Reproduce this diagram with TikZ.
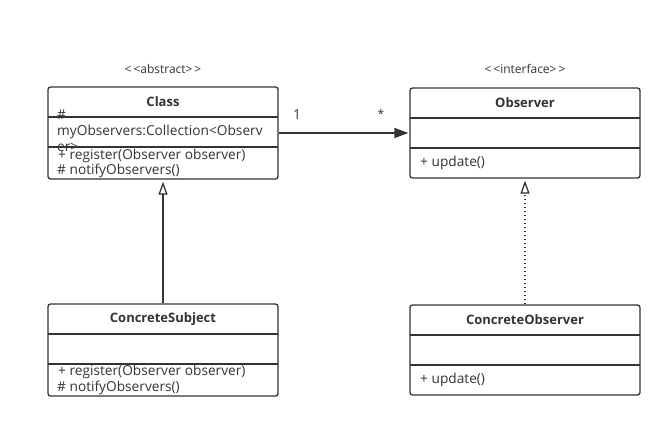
\documentclass[tikz,border=0pt]{standalone}
\usepackage{fontspec}
\setmainfont{Open Sans}
\usetikzlibrary{arrows.meta}

\definecolor{umlgray}{HTML}{333333}

\begin{document}
\begin{tikzpicture}[x=1pt,y=-1pt,every node/.style={text=umlgray,inner sep=0pt},
	classbox/.style={draw=umlgray,line width=1.3pt,rounded corners=2.5pt,minimum width=230pt},
	divider/.style={draw=umlgray,line width=1.3pt},
	title/.style={font=\bfseries\fontsize{13}{15}\selectfont},
	member/.style={anchor=west,font=\fontsize{13.7}{15}\selectfont},
	stereo/.style={font=\fontsize{12}{13}\selectfont},
	assoc/.style={draw=umlgray,line width=1.3pt,-{Triangle[width=10pt,length=14pt]},shorten >=1pt},
	inherit/.style={draw=umlgray,line width=1.3pt,-{Triangle[open,width=9pt,length=13pt,line width=1.3pt]},shorten >=2pt},
	realize/.style={inherit,dash pattern=on 1.5pt off 2.5pt}]
	\useasboundingbox (0,0) rectangle (672,428);

	% boxes
	\node[classbox,minimum height=92pt] (cls) at (163,133) {};
	\node[classbox,minimum height=90pt] (obs) at (525,133) {};
	\node[classbox,minimum height=92pt] (csub) at (163,350) {};
	\node[classbox,minimum height=90pt] (cobs) at (525,350) {};

	% compartments
	\draw[divider] (48,117) -- (278,117);
	\draw[divider] (48,147) -- (278,147);
	\draw[divider] (410,118) -- (640,118);
	\draw[divider] (410,148) -- (640,148);
	\draw[divider] (48,334) -- (278,334);
	\draw[divider] (48,364) -- (278,364);
	\draw[divider] (410,335) -- (640,335);
	\draw[divider] (410,365) -- (640,365);

	% stereotypes
	\node[stereo] (abs) at (163,69) {{<}\kern2pt{<}abstract{>}\kern2pt{>}};
	\node[stereo] (ifc) at (525,69) {{<}\kern2pt{<}interface{>}\kern2pt{>}};

	% Class
	\node[title] (clsname) at (163,102) {Class};
	\node[member] (clsa) at (57,115) {\#};
	\node[member] (clsb) at (57,132) {myObservers:Collection{<}Observ};
	\node[member] (clsc) at (57,147) {er{>}};
	\node[member] (clsm) at (58,156) {+ register(Observer observer)};
	\node[member] (clsn) at (57,171) {\# notifyObservers()};

	% Observer
	\node[title] (obsname) at (525,103) {Observer};
	\node[member] (obsm) at (420,163) {+ update()};

	% ConcreteSubject
	\node[title] (csubname) at (163,319) {ConcreteSubject};
	\node[member] (csubm) at (58,372) {+ register(Observer observer)};
	\node[member] (csubn) at (57,388) {\# notifyObservers()};

	% ConcreteObserver
	\node[title] (cobsname) at (525,320) {ConcreteObserver};
	\node[member] (cobsm) at (420,380) {+ update()};

	% relations
	\draw[assoc] (cls.east) -- (obs.west);
	\node[member] (one) at (293,115) {1};
	\node[stereo] (many) at (381,114) {*};
	\draw[inherit] (csub.north) -- (cls.south);
	\draw[realize] (cobs.north) -- (obs.south);
\end{tikzpicture}
\end{document}
